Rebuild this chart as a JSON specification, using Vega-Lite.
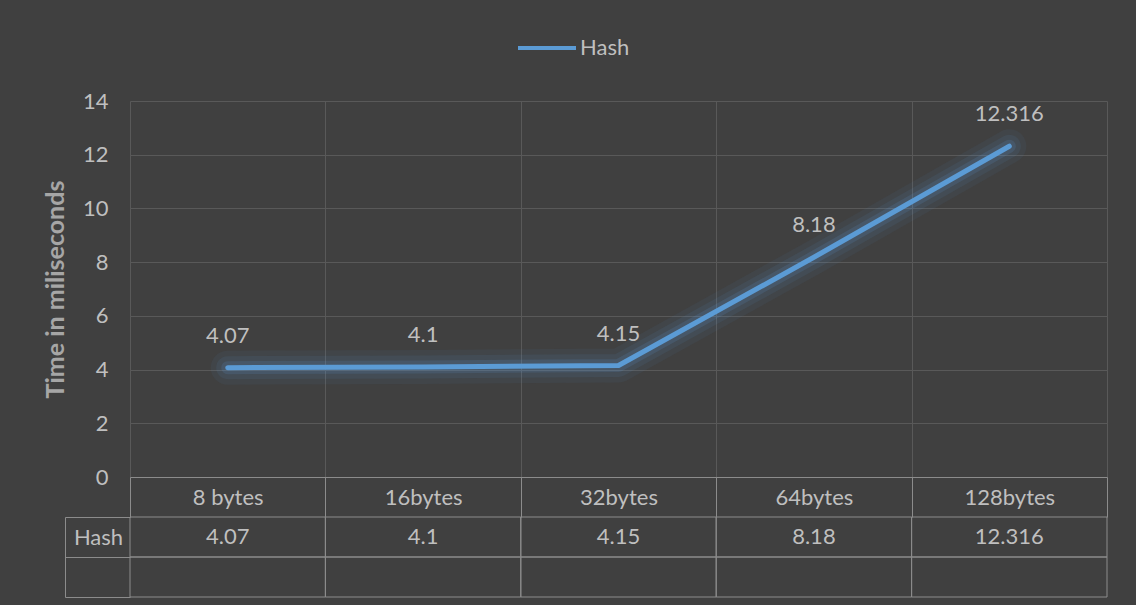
{
  "$schema": "https://vega.github.io/schema/vega-lite/v6.json",
  "background": "#404040",
  "padding": {"left": 43, "top": 17, "right": 30, "bottom": 8},
  "spacing": 40,
  "bounds": "flush",
  "config": {
    "font": "Lato",
    "view": {"stroke": null},
    "axis": {"labelFont": "Lato", "titleFont": "Lato"},
    "legend": {"labelFont": "Lato"}
  },
  "data": {
    "values": [
      {"size": "8 bytes", "time": 4.07},
      {"size": "16bytes", "time": 4.1},
      {"size": "32bytes", "time": 4.15},
      {"size": "64bytes", "time": 8.18},
      {"size": "128bytes", "time": 12.316}
    ]
  },
  "vconcat": [
    {
      "width": 977,
      "height": 376,
      "encoding": {
        "x": {
          "field": "size",
          "type": "nominal",
          "sort": null,
          "scale": {"type": "band", "paddingInner": 0, "paddingOuter": 0},
          "axis": {
            "title": null,
            "orient": "bottom",
            "tickBand": "extent",
            "grid": true,
            "gridColor": "#595959",
            "gridWidth": 1,
            "domainColor": "#8c8c8c",
            "tickColor": "#8c8c8c",
            "tickSize": 40,
            "labelAngle": 0,
            "labelFontSize": 22,
            "labelColor": "#bfbfbf",
            "labelBaseline": "middle",
            "labelPadding": -20
          }
        },
        "y": {
          "field": "time",
          "type": "quantitative",
          "scale": {"domain": [0, 14], "nice": false},
          "axis": {
            "title": "Time in miliseconds",
            "titleFontSize": 25,
            "titleFontWeight": "bold",
            "titleColor": "#a6a6a6",
            "titlePadding": 14,
            "values": [0, 2, 4, 6, 8, 10, 12, 14],
            "domain": false,
            "ticks": false,
            "grid": true,
            "gridColor": "#595959",
            "labelFontSize": 22,
            "labelColor": "#bfbfbf",
            "labelPadding": 22
          }
        }
      },
      "layer": [
        {"mark": {"type": "line", "color": "#5b9bd5", "strokeWidth": 34, "opacity": 0.06, "strokeCap": "round", "strokeJoin": "round"}},
        {"mark": {"type": "line", "color": "#5b9bd5", "strokeWidth": 23, "opacity": 0.09, "strokeCap": "round", "strokeJoin": "round"}},
        {"mark": {"type": "line", "color": "#5b9bd5", "strokeWidth": 13, "opacity": 0.15, "strokeCap": "round", "strokeJoin": "round"}},
        {
          "mark": {"type": "line", "strokeWidth": 5, "strokeCap": "round", "strokeJoin": "round"},
          "encoding": {
            "color": {
              "datum": "Hash",
              "type": "nominal",
              "scale": {"range": ["#5b9bd5"]},
              "legend": {
                "title": null,
                "orient": "none",
                "legendX": 386,
                "legendY": -84,
                "symbolType": "stroke",
                "symbolSize": 3364,
                "symbolStrokeWidth": 4,
                "labelFontSize": 22,
                "labelColor": "#bfbfbf",
                "labelOffset": 2
              }
            }
          }
        },
        {
          "mark": {"type": "text", "dy": -32, "fontSize": 22, "color": "#bfbfbf", "baseline": "middle"},
          "encoding": {"text": {"field": "time", "type": "nominal"}}
        }
      ]
    },
    {
      "width": 977,
      "height": 80,
      "encoding": {
        "x": {
          "field": "size",
          "type": "nominal",
          "sort": null,
          "scale": {"type": "band", "paddingInner": 0, "paddingOuter": 0},
          "axis": null
        }
      },
      "layer": [
        {
          "mark": {"type": "rect", "fillOpacity": 0, "stroke": "#8c8c8c", "strokeWidth": 1},
          "encoding": {
            "y": {
              "datum": "Hash",
              "type": "nominal",
              "scale": {"domain": ["Hash", "blank"], "paddingInner": 0, "paddingOuter": 0},
              "axis": {
                "title": null,
                "offset": 65,
                "tickBand": "extent",
                "tickSize": -65,
                "tickColor": "#8c8c8c",
                "domainColor": "#8c8c8c",
                "grid": false,
                "labelExpr": "datum.value == 'Hash' ? 'Hash' : ''",
                "labelAlign": "center",
                "labelPadding": 32,
                "labelFontSize": 22,
                "labelColor": "#bfbfbf"
              }
            }
          }
        },
        {
          "mark": {"type": "rect", "fillOpacity": 0, "stroke": "#8c8c8c", "strokeWidth": 1},
          "encoding": {"y": {"datum": "blank", "type": "nominal"}}
        },
        {
          "mark": {"type": "text", "fontSize": 22, "color": "#bfbfbf", "baseline": "middle"},
          "encoding": {
            "y": {"datum": "Hash", "type": "nominal"},
            "text": {"field": "time", "type": "nominal"}
          }
        }
      ]
    }
  ]
}
